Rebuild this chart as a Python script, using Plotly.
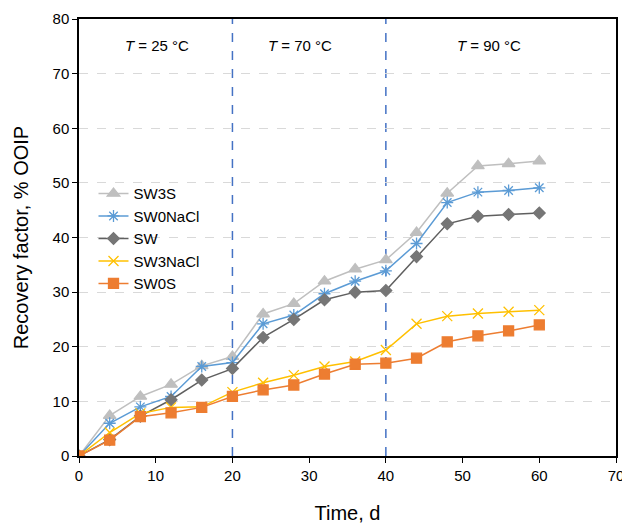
import plotly.graph_objects as go

time = [0, 4, 8, 12, 16, 20, 24, 28, 32, 36, 40, 44, 48, 52, 56, 60]
sw3s = [0, 7.4, 10.9, 13.1, 16.5, 18.2, 26.0, 27.9, 32.0, 34.2, 35.9, 40.9, 48.1, 53.1, 53.5, 54.0]
sw0nacl = [0, 6.0, 9.0, 10.9, 16.4, 17.1, 24.2, 25.8, 29.7, 32.0, 33.9, 38.9, 46.4, 48.3, 48.6, 49.1]
sw = [0, 3.0, 7.3, 10.3, 13.9, 16.0, 21.7, 25.0, 28.6, 30.0, 30.3, 36.5, 42.5, 43.9, 44.2, 44.5]
sw3nacl = [0, 4.3, 7.8, 8.9, 9.0, 11.7, 13.4, 14.8, 16.4, 17.3, 19.4, 24.2, 25.6, 26.1, 26.4, 26.7]
sw0s = [0, 2.9, 7.2, 7.9, 8.9, 10.9, 12.1, 13.0, 15.0, 16.8, 17.0, 17.9, 20.9, 22.0, 22.9, 24.0]

x_ticks = [0, 10, 20, 30, 40, 50, 60, 70]
y_ticks = [0, 10, 20, 30, 40, 50, 60, 70, 80]
temp_labels = ["<i>T</i> = 25 °C", "<i>T</i> = 70 °C", "<i>T</i> = 90 °C"]
temp_x = [10.2, 28.8, 53.4]
boundaries = [20, 40]

series = [
    ("SW3S", sw3s, "#BFBFBF", "#BFBFBF", "triangle-up", 11),
    ("SW0NaCl", sw0nacl, "#5B9BD5", "#5B9BD5", "asterisk-open", 10),
    ("SW", sw, "#5F5F5F", "#767676", "diamond", 9),
    ("SW3NaCl", sw3nacl, "#FFC000", "#FFC000", "x-thin-open", 10),
    ("SW0S", sw0s, "#ED7D31", "#ED7D31", "square", 10),
]

fig = go.Figure()
for name, vals, lc, mc, sym, size in series:
    fig.add_trace(go.Scatter(
        x=time, y=vals, name=name, mode="lines+markers",
        line=dict(color=lc, width=1.5),
        marker=dict(symbol=sym, size=size, color=mc,
                    line=dict(color=mc, width=1.3)),
    ))

for b in boundaries:
    fig.add_shape(type="line", x0=b, x1=b, y0=0, y1=80, xref="x", yref="y",
                  line=dict(color="#4472C4", width=1.5, dash="dash"), layer="below")

for lbl, xv in zip(temp_labels, temp_x):
    fig.add_annotation(x=xv, y=75.2, text=lbl, showarrow=False,
                       font=dict(size=15, color="black"))

fig.update_layout(
    width=622, height=516,
    margin=dict(l=71, r=14, t=11, b=68),
    paper_bgcolor="white", plot_bgcolor="white",
    font=dict(family="Liberation Sans, Arial, sans-serif", size=15, color="black"),
    showlegend=True,
    legend=dict(x=0.027, y=0.638, xanchor="left", yanchor="top",
                bgcolor="rgba(0,0,0,0)", font=dict(size=15),
                tracegroupgap=0, itemwidth=30),
    xaxis=dict(range=[0, 70], tickvals=x_ticks, showgrid=False, automargin=False,
               showline=True, linecolor="black", linewidth=1.5, mirror=True,
               ticks="outside", ticklen=5, tickcolor="black", zeroline=False,
               title=dict(text="Time, d", font=dict(size=20), standoff=25)),
    yaxis=dict(range=[0, 80], tickvals=y_ticks, showgrid=True, automargin=False,
               gridcolor="#D9D9D9", griddash="dash", gridwidth=1,
               showline=True, linecolor="black", linewidth=1.5, mirror=True,
               ticks="outside", ticklen=5, tickcolor="black", zeroline=False,
               title=dict(text="Recovery factor, % OOIP", font=dict(size=20), standoff=19)),
)

fig.write_html("out.html")
